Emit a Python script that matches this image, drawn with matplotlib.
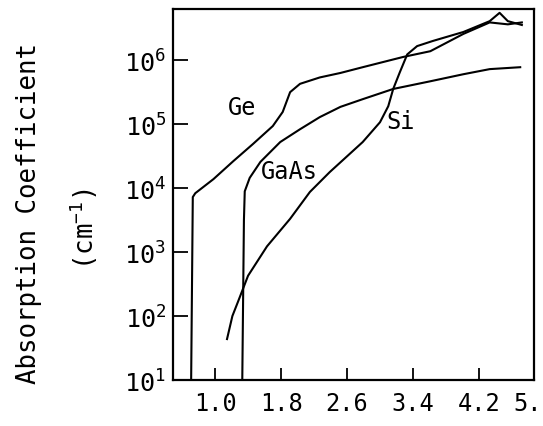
import numpy as np
import matplotlib
matplotlib.use("Agg")
import matplotlib.pyplot as plt

# photon energy (eV) and log10 of absorption coefficient (cm^-1)
ge_energy = [0.71, 0.73, 0.76, 0.98, 1.22, 1.46, 1.70, 1.82, 1.91, 2.03, 2.27, 2.52,
             2.79, 3.28, 3.61, 4.01, 4.33, 4.55, 4.72]
ge_log_alpha = [1.0, 3.86, 3.92, 4.14, 4.42, 4.69, 4.97, 5.19, 5.50, 5.63, 5.73, 5.80,
                5.89, 6.05, 6.14, 6.41, 6.59, 6.56, 6.59]

gaas_energy = [1.33, 1.35, 1.36, 1.42, 1.55, 1.79, 2.03, 2.27, 2.52, 2.79, 3.16, 3.61,
               4.01, 4.33, 4.70]
gaas_log_alpha = [1.0, 3.5, 3.95, 4.16, 4.41, 4.72, 4.92, 5.11, 5.27, 5.39, 5.55, 5.67,
                  5.78, 5.86, 5.89]

si_energy = [1.145, 1.21, 1.28, 1.40, 1.63, 1.91, 2.15, 2.39, 2.79, 3.00, 3.10, 3.16,
             3.24, 3.33, 3.45, 3.64, 3.93, 4.01, 4.33, 4.45, 4.55, 4.72]
si_log_alpha = [1.64, 2.0, 2.23, 2.63, 3.09, 3.52, 3.94, 4.25, 4.72, 5.03, 5.28, 5.55,
                5.81, 6.09, 6.22, 6.30, 6.41, 6.44, 6.61, 6.74, 6.61, 6.55]

x_ticks = [1.0, 1.8, 2.6, 3.4, 4.2, 5.0]
x_tick_labels = ["1.0", "1.8", "2.6", "3.4", "4.2", "5."]
y_exponents = [1, 2, 3, 4, 5, 6]

curve_labels = [("Ge", 1.33, 5.27), ("GaAs", 1.90, 4.27), ("Si", 3.25, 5.05)]

plt.rcParams["font.family"] = "DejaVu Sans Mono"
plt.rcParams["mathtext.fontset"] = "custom"
plt.rcParams["mathtext.rm"] = "DejaVu Sans Mono"
plt.rcParams["mathtext.it"] = "DejaVu Sans Mono"
plt.rcParams["mathtext.bf"] = "DejaVu Sans Mono"

fig = plt.figure(figsize=(5.43, 4.27), dpi=100)
ax = fig.add_axes([0.3186, 0.1077, 0.6648, 0.8689])

lw = 1.5
for e, la in [(ge_energy, ge_log_alpha), (gaas_energy, gaas_log_alpha),
              (si_energy, si_log_alpha)]:
    ax.plot(e, 10.0 ** np.array(la), color="black", lw=lw)

ax.set_yscale("log")
ax.set_xlim(0.49, 4.867)
ax.set_ylim(10 ** 1, 10 ** 6.8)

ax.set_yticks([10.0 ** k for k in y_exponents])
ax.set_yticklabels([r"$10^{%d}$" % k for k in y_exponents])
ax.yaxis.set_minor_locator(matplotlib.ticker.NullLocator())
ax.set_xticks(x_ticks[:-1])
ax.set_xticklabels(x_tick_labels[:-1])
# last label sits past the right edge of the frame
ax.annotate(x_tick_labels[-1], xy=(x_ticks[-1], 0), xycoords=("data", "axes fraction"),
            xytext=(-2, -8), textcoords="offset points", ha="right", va="top",
            fontsize=17, annotation_clip=False)

ax.tick_params(axis="y", direction="in", length=11, width=1.3, pad=5, labelsize=18)
ax.tick_params(axis="x", direction="in", length=9, width=1.3, pad=8, labelsize=17)
for s in ax.spines.values():
    s.set_linewidth(1.6)

for name, e, la in curve_labels:
    ax.text(e, 10 ** la, name, fontsize=17, ha="center", va="center")

fig.text(0.053, 0.500, "Absorption Coefficient", rotation=90, fontsize=18.5,
         ha="center", va="center")
fig.text(0.155, 0.462, r"(cm$^{-1}$)", rotation=90, fontsize=18.5,
         ha="center", va="center")

fig.savefig("out.png", dpi=100)
